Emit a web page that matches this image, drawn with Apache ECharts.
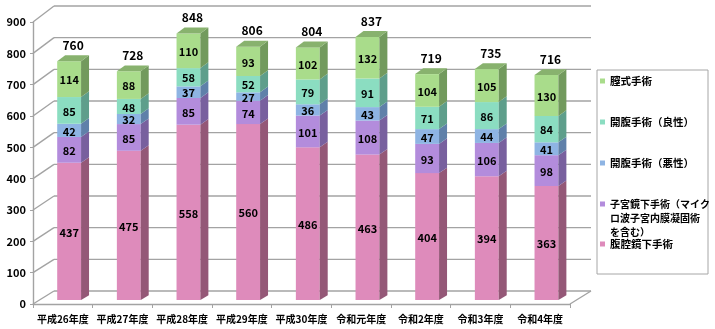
<!DOCTYPE html>
<html><head><meta charset="utf-8">
<script src="https://cdn.jsdelivr.net/npm/echarts@6/dist/echarts.min.js"></script>
<style>html,body{margin:0;padding:0;background:#fff}#c{width:715px;height:329px}</style>
</head><body><div id="c"></div><script>
// ---- data ----
const categories = ['平成26年度','平成27年度','平成28年度','平成29年度','平成30年度','令和元年度','令和2年度','令和3年度','令和4年度'];
const yTicks = [0,100,200,300,400,500,600,700,800,900];
const laparoscopy   = [437,475,558,560,486,463,404,394,363]; // 腹腔鏡下手術
const hysteroscopy  = [82,85,85,74,101,108,93,106,98];       // 子宮鏡下手術
const openMalignant = [42,32,37,27,36,43,47,44,41];          // 開腹手術（悪性）
const openBenign    = [85,48,58,52,79,91,71,86,84];          // 開腹手術（良性）
const vaginal       = [114,88,110,93,102,132,104,105,130];   // 膣式手術
const seriesNames = ['腹腔鏡下手術','子宮鏡下手術（マイクロ波子宮内膜凝固術を含む）','開腹手術（悪性）','開腹手術（良性）','膣式手術'];

// ---- style ----
const FONT = '"Noto Sans CJK JP", "Noto Sans", sans-serif';
const faces = [
  {front:'#DE8BBB', side:'#945877', top:'#B8739A'},
  {front:'#B38CDC', side:'#78609E', top:'#9577BA'},
  {front:'#8EB4E3', side:'#5F80A9', top:'#7699C4'},
  {front:'#8BDDC1', side:'#5E9E8B', top:'#74BDA5'},
  {front:'#A9DC8B', side:'#729A5D', top:'#88B26E'}
];
const yMax = yTicks[yTicks.length-1];
const DX = 21;
function off(t, v){ return [DX*t, -(13 + 3*v/yMax)*t]; }
const T0 = 0.3, T1 = 0.68;
const WALL = {stroke:'#A3A3A3', lineWidth:1.4};

const allVals = [laparoscopy, hysteroscopy, openMalignant, openBenign, vaginal];
const bases = allVals.map((arr, k) => arr.map((_, i) => {
  let s = 0; for (let j = 0; j < k; j++) s += allVals[j][i]; return s;
}));
const totals = categories.map((_, i) => allVals.reduce((s, a) => s + a[i], 0));

function makeBarRender(k){
  const isTop = k === allVals.length - 1;
  return function(params, api){
    const cat = api.value(0), val = api.value(1), base = api.value(2);
    const band = api.size([1,0])[0];
    const w = band*0.4;
    const pb = api.coord([cat, base]);
    const pt = api.coord([cat, base+val]);
    const ob = off(T0, base), ot = off(T0, base+val);
    const xL = pb[0] - w/2 + ob[0], xR = xL + w;
    const yb = pb[1] + ob[1], yt = pt[1] + ot[1];
    const db = off(T1-T0, base), dt = off(T1-T0, base+val);
    const f = faces[k];
    const children = [
      {type:'rect', shape:{x:xL, y:yt, width:w, height:yb-yt}, style:{fill:f.front}},
      {type:'polygon', shape:{points:[[xR,yb],[xR+db[0],yb+db[1]],[xR+dt[0],yt+dt[1]],[xR,yt]]}, style:{fill:f.side}}
    ];
    if (isTop) {
      children.push({type:'polygon', shape:{points:[[xL,yt],[xR,yt],[xR+dt[0],yt+dt[1]],[xL+dt[0],yt+dt[1]]]}, style:{fill:f.top}});
    }
    children.push({type:'text', style:{text:String(val), x:xL+w/2, y:(yt+yb)/2+1, align:'center', verticalAlign:'middle',
      font:'bold 11px ' + FONT, fill:'#000'}});
    return {type:'group', children};
  };
}

function renderWall(params, api){
  const v = api.value(1);
  const band = api.size([1,0])[0];
  const pL = api.coord([0, v]), pR = api.coord([categories.length-1, v]);
  const xL = pL[0]-band/2, xR = pR[0]+band/2, y = pL[1];
  const o = off(1, v);
  const ch = [
    {type:'line', shape:{x1:xL+o[0], y1:y+o[1], x2:xR+o[0], y2:y+o[1]}, style:WALL},
    {type:'line', shape:{x1:xL, y1:y, x2:xL+o[0], y2:y+o[1]}, style:WALL}
  ];
  if (v === 0) ch.push({type:'line', shape:{x1:xR, y1:y, x2:xR+o[0], y2:y+o[1]}, style:WALL});
  return {type:'group', children:ch};
}

function renderTotal(params, api){
  const cat = api.value(0), tot = api.value(1);
  const p = api.coord([cat, tot]);
  const o = off(T1, tot);
  const x = p[0] + off(T0, tot)[0] + 4;
  return {type:'text', style:{text:String(tot), x:x, y:p[1]+o[1]-10, align:'center', verticalAlign:'middle',
    font:'bold 12px ' + FONT, fill:'#000'}};
}

const series = [{
  type:'custom', name:'wall', renderItem:renderWall, z:1, silent:true,
  data: yTicks.map(v => [0, v]), encode:{x:0, y:1}
}];
allVals.forEach((arr, k) => {
  series.push({
    type:'custom', name:seriesNames[k], renderItem:makeBarRender(k), z:2+k,
    itemStyle:{color:faces[k].front},
    data: arr.map((v, i) => [i, v, bases[k][i]]), encode:{x:0, y:1}
  });
});
series.push({type:'custom', name:'total', renderItem:renderTotal, z:10, silent:true,
  data: totals.map((t, i) => [i, t]), encode:{x:0, y:1}});

const legendText = {fontSize:10.5, fontWeight:'bold', fontFamily:FONT, color:'#000', lineHeight:14};
const option = {
  animation:false,
  backgroundColor:'#fff',
  grid:{left:33, right:145, top:22, bottom:25, containLabel:false},
  xAxis:{type:'category', data:categories,
    axisLine:{show:true, lineStyle:{color:'#A3A3A3', width:1.4}},
    axisTick:{show:true, length:4, lineStyle:{color:'#A3A3A3'}},
    axisLabel:{interval:0, fontSize:10, fontWeight:'bold', fontFamily:FONT, color:'#000', margin:10},
    splitLine:{show:false}},
  yAxis:{type:'value', min:0, max:yMax, interval:100,
    axisLine:{show:true, lineStyle:{color:'#A3A3A3', width:1.4}},
    axisTick:{show:true, length:3, lineStyle:{color:'#A3A3A3'}},
    axisLabel:{fontSize:11, fontWeight:'bold', fontFamily:FONT, color:'#000', margin:7},
    splitLine:{show:false}},
  graphic:[{type:'rect', shape:{x:597, y:70, width:111, height:204}, style:{fill:'#fff', stroke:'#A6A6A6', lineWidth:1}, z:0}],
  legend:[
    {orient:'vertical', left:600, top:74, padding:0, itemWidth:5, itemHeight:5, itemGap:27, selectedMode:false,
      icon:'rect', textStyle:legendText,
      data:[seriesNames[4], seriesNames[3], seriesNames[2]]},
    {orient:'vertical', left:600, top:197, padding:0, itemWidth:5, itemHeight:42, selectedMode:false,
      textStyle:Object.assign({}, legendText, {fontSize:10}),
      formatter: () => '子宮鏡下手術（マイク\nロ波子宮内膜凝固術\nを含む）',
      data:[{name:seriesNames[1], icon:'path://M0 4.5h5v5h-5z M0 0h0.01v0.01h-0.01z M0 41.99h0.01v0.01h-0.01z'}]},
    {orient:'vertical', left:600, top:237, padding:0, itemWidth:5, itemHeight:5, selectedMode:false,
      icon:'rect', textStyle:legendText, data:[seriesNames[0]]}
  ],
  series:series
};
const chart = echarts.init(document.getElementById('c'), null, {renderer:'canvas'});
chart.setOption(option);
</script></body></html>
